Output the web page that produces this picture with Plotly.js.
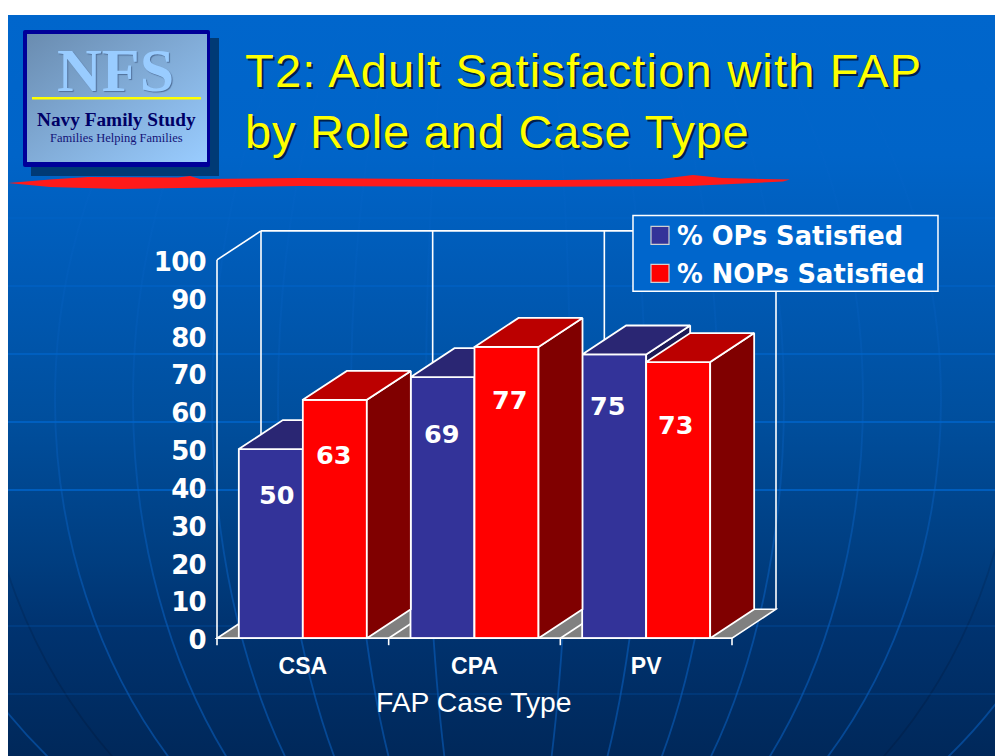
<!DOCTYPE html>
<html>
<head>
<meta charset="utf-8">
<script src="https://cdn.plot.ly/plotly-3.0.1.min.js"></script>
<style>
  html, body { margin: 0; padding: 0; background: #fff; overflow: hidden; }
  #stage { position: relative; width: 995px; height: 756px; }
  #decor { position: absolute; left: 0; top: 0; }
  #chart { position: absolute; left: 0; top: 0; width: 995px; height: 756px; }
  .gtitle { letter-spacing: 1.2px; }
  .gtitle tspan.line:nth-of-type(2) { letter-spacing: 0.8px; }
  .ytick text { letter-spacing: -0.7px; }
</style>
</head>
<body>
<div id="stage">
<svg id="decor" width="995" height="756" xmlns="http://www.w3.org/2000/svg">
  <defs>
    <linearGradient id="bg" gradientUnits="userSpaceOnUse" x1="0" y1="15" x2="0" y2="756">
      <stop offset="0" stop-color="#0066cc"/>
      <stop offset="0.19" stop-color="#0064c8"/>
      <stop offset="0.37" stop-color="#0059b3"/>
      <stop offset="0.54" stop-color="#004f9e"/>
      <stop offset="0.74" stop-color="#003d7f"/>
      <stop offset="0.825" stop-color="#003370"/>
      <stop offset="1" stop-color="#00285a"/>
    </linearGradient>
    <linearGradient id="mer" gradientUnits="userSpaceOnUse" x1="0" y1="15" x2="0" y2="756">
      <stop offset="0" stop-color="#0a66cc" stop-opacity="0.04"/>
      <stop offset="0.5" stop-color="#0a66cc" stop-opacity="0.25"/>
      <stop offset="0.8" stop-color="#0a66cc" stop-opacity="0.5"/>
      <stop offset="1" stop-color="#0a66cc" stop-opacity="0.5"/>
    </linearGradient>
    <linearGradient id="merDark" gradientUnits="userSpaceOnUse" x1="0" y1="350" x2="0" y2="756">
      <stop offset="0" stop-color="#001a40" stop-opacity="0"/>
      <stop offset="1" stop-color="#001a40" stop-opacity="0.4"/>
    </linearGradient>
    <linearGradient id="logo" x1="0" y1="0" x2="1" y2="1">
      <stop offset="0" stop-color="#6a8cb0"/>
      <stop offset="1" stop-color="#99ccff"/>
    </linearGradient>
    <clipPath id="slide"><rect x="8" y="15" width="987" height="741"/></clipPath>
  </defs>
  <rect x="8" y="15" width="987" height="741" fill="url(#bg)"/>
  <g clip-path="url(#slide)" fill="none" stroke-width="1.8">
    <g stroke="url(#mer)">
      <ellipse cx="498" cy="400" rx="72" ry="534"/>
      <ellipse cx="498" cy="400" rx="147" ry="534"/>
      <ellipse cx="498" cy="400" rx="220" ry="534"/>
      <ellipse cx="498" cy="400" rx="286" ry="534"/>
      <ellipse cx="498" cy="400" rx="365" ry="534"/>
      <ellipse cx="498" cy="400" rx="443" ry="534"/>
      <ellipse cx="498" cy="400" rx="605" ry="534"/>
    </g>
    <ellipse cx="498" cy="400" rx="518" ry="534" stroke="url(#merDark)"/>
    <g stroke="#0066cc" stroke-width="1.5">
      <path d="M8 150H995" stroke-opacity="0.15"/>
      <path d="M8 218H995" stroke-opacity="0.35"/>
      <path d="M8 286H995" stroke-opacity="0.65"/>
      <path d="M8 354H995" stroke-opacity="0.85"/>
      <path d="M8 422H995"/>
      <path d="M8 490H995"/>
      <path d="M8 626H995" stroke-opacity="0.25"/>
      <path d="M8 694H995" stroke-opacity="0.25"/>
    </g>
  </g>
  <path d="M8 183 L50 179.500 L88 177 L178 177.500 L190 176 L200 179 L300 178 L420 179 L560 180 L660 179 L693 175 L722 178 L790 179.500 L783 181.500 L690 186 L500 187 L300 186 L120 189 L50 187 Z" fill="#ff1a1a"/>
  <rect x="31" y="38" width="188" height="138" fill="#003a75"/>
  <rect x="23" y="30" width="187" height="137" rx="2" fill="#000099"/>
  <rect x="27" y="34" width="180" height="128" fill="url(#logo)"/>
  <rect x="32" y="97" width="169" height="2.5" fill="#ffff00"/>
</svg>
<div id="chart"></div>
</div>
<script>
// ---- data ----
const categories = ['CSA', 'CPA', 'PV'];
const opsName = '% OPs Satisfied';
const nopsName = '% NOPs Satisfied';
const opsValues = [50, 69, 75];
const nopsValues = [63, 77, 73];
const yTicks = [0, 10, 20, 30, 40, 50, 60, 70, 80, 90, 100];

// ---- geometry of the pseudo-3D plot, in axis units ----
const pxPerCat = 171.67, pxPerUnit = 3.785;
const barW = 64 / pxPerCat;
const depthX = 44 / pxPerCat, depthY = 29 / pxPerUnit;
const xRange = [-0.5 - 2 / pxPerCat, 2.5 + depthX + 2 / pxPerCat];
const yRange = [-1, 100 + depthY + 0.5];
const L = 217 - 2, W = (xRange[1] - xRange[0]) * pxPerCat;
const B = 638 + 1 * pxPerUnit, H = (yRange[1] - yRange[0]) * pxPerUnit;
const FW = 995, FH = 756;
const px = x => (x - L) / W;
const py = y => (B - y) / H;

const WHITE = '#ffffff';
const lineW = 1.8;
const textFont = 'DejaVu Sans';

function faces(values, offsetLeft) {
  const sx = [], sy = [], tx = [], ty = [];
  values.forEach((v, i) => {
    const x0 = i + offsetLeft, x1 = x0 + barW;
    sx.push(x1, x1 + depthX, x1 + depthX, x1, x1, null);
    sy.push(0, depthY, v + depthY, v, 0, null);
    tx.push(x0, x1, x1 + depthX, x0 + depthX, x0, null);
    ty.push(v, v, v + depthY, v + depthY, v, null);
  });
  return { sx, sy, tx, ty };
}
function bar(values, name, offset, color, xa, ya) {
  return {
    type: 'bar', name, x: categories.map((c, i) => i), y: values,
    width: barW, offset, xaxis: xa, yaxis: ya, showlegend: false,
    marker: { color, line: { color: WHITE, width: lineW } }, hoverinfo: 'name+y'
  };
}
function poly(x, y, fillcolor, xa, ya) {
  return {
    type: 'scatter', mode: 'lines', x, y, fill: 'toself', fillcolor, xaxis: xa, yaxis: ya,
    line: { color: WHITE, width: lineW }, hoverinfo: 'skip', showlegend: false
  };
}
const fa = faces(opsValues, -barW), fb = faces(nopsValues, 0);
const data = [
  bar(opsValues, opsName, -barW, '#333399', 'x', 'y'),
  poly(fa.sx, fa.sy, '#1d1a55', 'x', 'y'),
  poly(fa.tx, fa.ty, '#2a2673', 'x', 'y'),
  bar(nopsValues, nopsName, 0, '#ff0000', 'x2', 'y2'),
  poly(fb.sx, fb.sy, '#800000', 'x2', 'y2'),
  poly(fb.tx, fb.ty, '#bb0000', 'x2', 'y2')
];

// ---- walls and floor, anchored to the axes ----
const wallLine = { color: WHITE, width: 1.6 };
function seg(x0, y0, x1, y1, layer) {
  return { type: 'line', xref: 'x', yref: 'y', x0, y0, x1, y1, line: wallLine, layer: layer || 'below' };
}
function tick(x) {
  return { type: 'line', xref: 'x', yref: 'paper', x0: x, x1: x, y0: py(638), y1: py(645), line: wallLine, layer: 'above' };
}
const left = -0.5, right = 2.5;
const shapes = [
  { type: 'path', xref: 'x', yref: 'y', layer: 'below', fillcolor: '#808080', line: wallLine,
    path: `M${left},0 L${right},0 L${right + depthX},${depthY} L${left + depthX},${depthY} Z` },
  seg(left, 0, left, 100),
  seg(left, 100, left + depthX, 100 + depthY),
  seg(left + depthX, depthY, left + depthX, 100 + depthY),
  seg(left + depthX, 100 + depthY, right + depthX, 100 + depthY),
  seg(right + depthX, depthY, right + depthX, 100 + depthY),
  seg(0.5 + depthX, depthY, 0.5 + depthX, 100 + depthY),
  seg(1.5 + depthX, depthY, 1.5 + depthX, 100 + depthY),
  seg(0.5, 0, 0.5 + depthX, depthY),
  seg(1.5, 0, 1.5 + depthX, depthY),
  seg(left, 0, right, 0, 'above'),
  tick(-0.5), tick(0.5), tick(1.5), tick(2.5)
];

// ---- hand-built legend (swatches the size of the original) ----
function pbox(x0, y0, x1, y1, fill, line) {
  return { type: 'rect', xref: 'paper', yref: 'paper', layer: 'above',
    x0: px(x0), x1: px(x1), y0: py(y1), y1: py(y0), fillcolor: fill, line };
}
shapes.push(
  pbox(633, 215, 938, 291, '#0066cc', { color: WHITE, width: 1.5 }),
  pbox(651, 226, 669, 244, '#333399', { color: '#d0d0d0', width: 1.2 }),
  pbox(651, 264, 669, 282, '#ff0000', { color: '#d0d0d0', width: 1.2 })
);

function note(text, x, y, font, extra) {
  return Object.assign({
    text, xref: 'paper', yref: 'paper', x: px(x), y: py(y), showarrow: false,
    xanchor: 'left', yanchor: 'middle', font
  }, extra || {});
}
const legendFont = { family: textFont, size: 25.7, color: WHITE, weight: 700 };
const center = { xanchor: 'center' };
const annotations = [
  note(opsName, 675, 236, legendFont),
  note(nopsName, 675, 274, legendFont),
  note('NFS', 115, 70, { family: 'Liberation Serif', size: 62, color: '#99ccff', weight: 700, shadow: '1px 1px 1px #50709a' }, center),
  note('Navy Family Study', 116, 119, { family: 'Liberation Serif', size: 19.3, color: '#000066', weight: 700 }, center),
  note('Families Helping Families', 116, 138, { family: 'Liberation Serif', size: 12.5, color: '#141478' }, center),
  note('FAP Case Type', 474.5, 702, { family: 'Liberation Sans', size: 28.3, color: WHITE }, center)
];

// value labels sit on the bars; pixel nudges from the top of each bar
const opsNudge = [[6, 46], [-1, 57], [-6, 52]];
const nopsNudge = [[-1, 55], [3, 53], [-2, 63]];
function valueLabels(values, nudge, mid) {
  values.forEach((v, i) => annotations.push({
    text: String(v), x: i + mid, y: v, xref: 'x', yref: 'y', showarrow: false,
    xanchor: 'center', yanchor: 'middle', xshift: nudge[i][0], yshift: -nudge[i][1],
    font: { family: textFont, size: 25.5, color: WHITE, weight: 700 }
  }));
}
valueLabels(opsValues, opsNudge, -barW / 2);
valueLabels(nopsValues, nopsNudge, barW / 2);

const layout = {
  width: FW, height: FH,
  paper_bgcolor: 'rgba(0,0,0,0)', plot_bgcolor: 'rgba(0,0,0,0)',
  margin: { l: L, r: FW - L - W, t: B - H, b: FH - B, pad: 0 },
  showlegend: false, barmode: 'overlay',
  title: {
    text: 'T2: Adult Satisfaction with FAP<br>by Role and Case Type',
    xref: 'container', yref: 'container', x: 245 / FW, xanchor: 'left',
    y: 1 - 87 / FH, yanchor: 'top',
    font: { family: 'Liberation Sans', size: 47, color: '#ffff00', shadow: '2px 2px 0px #00204a' }
  },
  xaxis: {
    range: xRange, tickmode: 'array', tickvals: [0, 1, 2], ticktext: categories,
    ticks: '', showgrid: false, zeroline: false, showline: false,
    ticklabelstandoff: 8,
    tickfont: { family: 'Liberation Sans', size: 23, color: WHITE, weight: 700 }
  },
  yaxis: {
    range: yRange, tickmode: 'array', tickvals: yTicks,
    ticks: '', showgrid: false, zeroline: false, showline: false,
    ticklabelstandoff: 8, ticklabelshift: 2,
    tickfont: { family: textFont, size: 26, color: WHITE, weight: 700 }
  },
  xaxis2: { range: xRange, overlaying: 'x', visible: false },
  yaxis2: { range: yRange, overlaying: 'y', visible: false },
  shapes, annotations
};
Plotly.newPlot('chart', data, layout, { displayModeBar: false, staticPlot: true });
</script>
</body>
</html>
